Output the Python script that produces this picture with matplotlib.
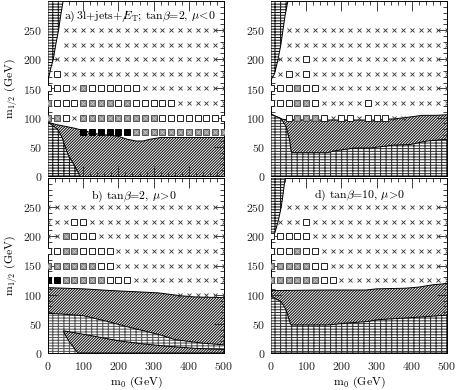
import numpy as np
import matplotlib
matplotlib.use('Agg')
import matplotlib.pyplot as plt
from matplotlib.patches import Polygon
from matplotlib.ticker import MultipleLocator

plt.rcParams.update({
    'font.family': 'serif', 'font.serif': ['cmr10'], 'mathtext.fontset': 'cm',
    'axes.formatter.use_mathtext': True, 'axes.unicode_minus': False,
    'hatch.linewidth': 0.75, 'font.size': 8.5,
})

# grid of scanned points
m0_grid = list(range(0, 501, 25))
# marker codes per row: x = not observable, o = open square, g = grey square, b = black square, . = none
rows_a = {250: '..' + 'x' * 19, 225: '..' + 'x' * 19, 200: '.' + 'x' * 20,
          175: '.o' + 'x' * 19, 150: 'ooox' + 'g' + 'o' * 6 + 'x' * 10,
          125: 'gooo' + 'gggg' + 'o' + 'g' + 'o' * 5 + 'x' * 6,
          100: 'ggox' + 'g' * 9 + 'o' * 8, 75: '....' + 'b' * 6 + 'g' * 11}
rows_b = {250: 'x' * 21, 225: 'xxxoo' + 'x' * 16, 200: 'xxgooo' + 'x' * 15,
          175: 'oogg' + 'oooo' + 'x' * 13, 150: 'g' * 6 + 'oo' + 'x' * 13,
          125: 'bb' + 'g' * 5 + 'ooo' + 'x' * 11, 100: '.' * 15 + 'x' * 6}
rows_c = {250: '..' + 'x' * 19, 225: '..' + 'x' * 19, 200: '.xxxo' + 'x' * 16,
          175: '.xoxo' + 'x' * 16, 150: 'ooogoo' + 'x' * 15,
          125: 'ooog' + 'go' + 'x' * 5 + 'o' + 'x' * 9,
          100: '..oggg' + 'oxooxoooxx' + '.' * 5}
rows_d = {250: '..' + 'x' * 19, 225: '.xxxo' + 'x' * 16, 200: 'ooooo' + 'x' * 16,
          175: 'ooogoo' + 'x' * 15, 150: 'ggggg' + 'oo' + 'x' * 14,
          125: 'gggggg' + 'oo' + 'x' * 13}

# region boundaries (m0, m1/2)
brick_top_a = [(0, 163), (8, 185), (15, 200), (22, 225), (30, 250), (36, 275), (43, 300), (0, 300)]
brick_low_a = [(0, 0), (0, 92), (15, 86), (30, 78), (40, 66), (49, 50), (58, 35), (73, 20), (85, 7), (90, 0)]
hatch_top_a_x = [0, 25, 50, 75, 100, 125, 150, 175, 200, 225, 250, 270, 290, 320, 400, 500]
hatch_top_a_y = [92, 88, 85, 82, 78, 74, 71, 70, 68, 63, 60, 60, 63, 66, 66, 66]

brick_top_c = [(0, 165), (10, 175), (20, 200), (28, 225), (34, 250), (40, 275), (48, 300), (0, 300)]
hatch_top_c_x = [0, 34, 100, 200, 300, 350, 380, 430, 470, 500]
hatch_top_c_y = [106, 97, 96, 96, 96, 98, 100, 104, 104, 105]
brick_low_c = [(0, 0), (0, 106), (29, 98), (43, 85), (53, 61), (57, 43), (60, 40), (161, 40), (180, 43),
               (236, 48), (283, 48), (349, 53), (396, 54), (443, 60), (500, 63), (500, 0)]

hatch_top_b_x = [0, 100, 180, 250, 314, 380, 420, 500]
hatch_top_b_y = [112, 110, 107, 105, 103, 98, 96, 95]
band_top_b_x = [0, 35, 100, 170, 225, 293, 325, 360, 437, 500]
band_top_b_y = [68, 67, 64, 54, 45, 35, 30, 23, 17, 14]
low_hatch_b = [(44, 38), (120, 30), (200, 21), (264, 16), (330, 12), (418, 8), (500, 6), (500, 0),
               (85, 0), (75, 8), (62, 18), (50, 30)]

brick_top_d = [(0, 193), (8, 200), (20, 225), (29, 250), (35, 275), (40, 300), (0, 300)]
hatch_top_d_x = [0, 150, 270, 300, 380, 420, 460, 500]
hatch_top_d_y = [107, 108, 108, 110, 111, 113, 117, 119]
brick_low_d = [(0, 0), (0, 97), (29, 88), (43, 74), (53, 54), (57, 48), (161, 48), (208, 51), (274, 54),
               (302, 57), (434, 62), (500, 65), (500, 0)]

labels = {'a': r'a)$\,$3l+jets+$/\!\!\!E_{\rm T}$; tan$\beta$=2, $\mu\!<\!0$',
          'b': r'b) tan$\beta$=2, $\mu\!>\!0$',
          'd': r'd) tan$\beta$=10, $\mu\!>\!0$'}

BRICK = '------|||'
DIAG = '/' * 12

fig = plt.figure(figsize=(4.57, 3.90), dpi=100)
W, H = 176 / 457, 175 / 390
pos = {'a': (48 / 457, 1 - 176 / 390), 'c': (271 / 457, 1 - 176 / 390),
       'b': (48 / 457, 1 - 353 / 390), 'd': (271 / 457, 1 - 353 / 390)}
axes = {}
for k, (x0, y0) in pos.items():
    ax = fig.add_axes([x0, y0, W, H])
    axes[k] = ax
    ax.set_xlim(0, 500)
    ax.set_ylim(0, 300)
    ax.set_xticks(range(0, 501, 100))
    ax.set_yticks(range(0, 251, 50))
    ax.xaxis.set_minor_locator(MultipleLocator(20))
    ax.yaxis.set_minor_locator(MultipleLocator(10))
    ax.tick_params(which='both', direction='in', top=True, right=True, width=0.6, colors='#222')
    ax.tick_params(which='major', length=7)
    ax.tick_params(which='minor', length=2.8)
    ax.tick_params(axis='y', pad=4, labelsize=8.5)
    ax.tick_params(axis='x', pad=5, labelsize=8.5)
    for s in ax.spines.values():
        s.set_linewidth(0.7)
    if k in ('a', 'c'):
        ax.set_xticklabels([])
    else:
        ax.set_xlabel(r'm$_0$ (GeV)', fontsize=8.5)
        ax.xaxis.set_label_coords(0.5, -0.125)
    if k in ('a', 'b'):
        ax.set_ylabel(r'm$_{1/2}$ (GeV)', fontsize=8.5, va='center')
        ax.yaxis.set_label_coords(-0.215, 0.5)


def hatch_fill(ax, xs, ys_top, ys_bot=None, pattern=DIAG, ec='#111111'):
    if ys_bot is None:
        ys_bot = np.zeros(len(xs))
    ax.fill_between(xs, ys_bot, ys_top, facecolor='white', edgecolor=ec, hatch=pattern, lw=0, zorder=1)
    ax.plot(xs, ys_top, color='black', lw=0.7, zorder=2)


def poly(ax, pts, pattern=BRICK, ec='#1a1a1a', z=3):
    p = Polygon(pts, closed=True, facecolor='white', edgecolor=ec, hatch=pattern, lw=0, zorder=z)
    ax.add_patch(p)
    b = Polygon(pts, closed=True, facecolor='none', edgecolor='black', lw=0.7, zorder=z + 0.1)
    ax.add_patch(b)


# panel a
ax = axes['a']
hatch_fill(ax, hatch_top_a_x, hatch_top_a_y)
poly(ax, brick_low_a)
poly(ax, brick_top_a)
# panel c
ax = axes['c']
hatch_fill(ax, hatch_top_c_x, hatch_top_c_y)
poly(ax, brick_low_c, ec='#333')
poly(ax, brick_top_c)
# panel b
ax = axes['b']
hatch_fill(ax, hatch_top_b_x, hatch_top_b_y)
ax.fill_between(band_top_b_x, 0, band_top_b_y, facecolor='white', edgecolor='#555', hatch=BRICK, lw=0, zorder=2)
ax.plot(band_top_b_x, band_top_b_y, color='black', lw=0.7, zorder=2.5)
poly(ax, low_hatch_b, pattern=DIAG, ec='#111111')
# panel d
ax = axes['d']
hatch_fill(ax, hatch_top_d_x, hatch_top_d_y)
poly(ax, brick_low_d, ec='#333')
poly(ax, brick_top_d)


def draw_markers(ax, rows):
    groups = {c: ([], []) for c in 'xogb'}
    for m12, s in rows.items():
        for m0, c in zip(m0_grid, s):
            if c in groups:
                groups[c][0].append(m0)
                groups[c][1].append(m12)
    ax.plot(*groups['x'], ls='none', marker='x', ms=3.2, mew=0.6, color='#333', zorder=6)
    ax.plot(*groups['o'], ls='none', marker='s', ms=5.0, mew=0.7, mfc='white', mec='#222', zorder=6)
    ax.plot(*groups['g'], ls='none', marker='s', ms=5.0, mew=0.7, mfc='#8c8c8c', mec='#555', zorder=6)
    ax.plot(*groups['g'], ls='none', marker='x', ms=2.2, mew=0.5, color='#d0d0d0', zorder=6.5)
    ax.plot(*groups['b'], ls='none', marker='s', ms=5.0, mew=0.7, mfc='black', mec='black', zorder=6)


for k, rows in (('a', rows_a), ('b', rows_b), ('c', rows_c), ('d', rows_d)):
    draw_markers(axes[k], rows)

axes['a'].text(46, 274, labels['a'], ha='left', va='center', fontsize=8.5, zorder=8)
axes['b'].text(245, 268, labels['b'], ha='center', va='center', fontsize=8.5, zorder=8)
axes['d'].text(253, 270, labels['d'], ha='center', va='center', fontsize=8.5, zorder=8)

fig.savefig('out.png', dpi=100)
